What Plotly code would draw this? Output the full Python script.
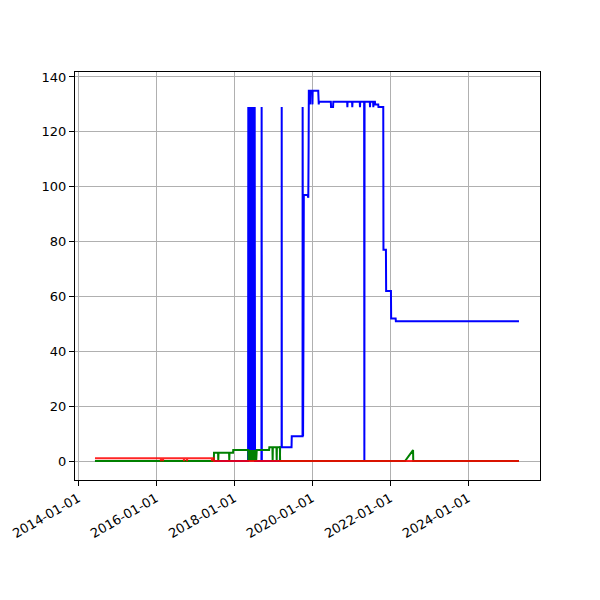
import plotly.graph_objects as go

blue_dates = [
    "2014-06-08", "2018-05-12",
    "2018-05-14", "2018-05-17", "2018-05-20", "2018-05-23", "2018-05-26", "2018-05-29",
    "2018-06-01", "2018-06-04", "2018-06-07", "2018-06-10", "2018-06-13", "2018-06-16",
    "2018-06-19", "2018-06-22", "2018-06-25", "2018-06-28", "2018-07-01", "2018-07-04",
    "2018-07-07", "2018-07-10", "2018-07-13", "2018-07-16",
    "2018-09-14", "2018-09-16", "2018-09-18",
    "2019-03-06", "2019-03-08", "2019-03-22", "2019-03-23", "2019-03-24",
    "2019-06-23", "2019-06-25", "2019-10-04", "2019-10-05", "2019-10-06",
    "2019-10-09", "2019-10-13", "2019-10-16", "2019-11-20", "2019-11-22", "2019-11-27",
    "2019-11-30", "2019-12-02",
    "2019-12-12", "2019-12-14", "2019-12-16", "2020-01-03", "2020-01-05", "2020-01-07",
    "2020-02-28", "2020-03-01", "2020-03-04", "2020-03-06",
    "2020-06-25", "2020-06-27", "2020-07-16", "2020-07-18",
    "2020-11-25", "2020-11-27", "2020-11-29",
    "2021-01-10", "2021-01-12", "2021-01-14",
    "2021-03-23", "2021-03-25", "2021-03-27",
    "2021-05-03", "2021-05-05", "2021-05-07",
    "2021-06-25", "2021-06-27", "2021-06-29",
    "2021-07-26", "2021-07-28", "2021-07-30",
    "2021-08-12", "2021-08-14", "2021-09-12", "2021-09-14",
    "2021-10-29", "2021-10-31", "2021-11-23", "2021-11-25",
    "2022-01-09", "2022-01-11", "2022-02-22", "2022-02-24",
    "2025-04-22",
]
blue_values = [
    0, 0,
    129, 0, 129, 0, 129, 0,
    129, 0, 129, 0, 129, 0,
    129, 0, 129, 0, 129, 0,
    129, 0, 129, 0,
    0, 129, 0,
    0, 5, 5, 129, 5,
    5, 9, 9, 129, 9,
    9, 49, 97, 97, 96, 96,
    115, 135,
    135, 130, 135, 135, 130, 135,
    135, 131, 130, 131,
    131, 129, 129, 131,
    131, 129, 131,
    131, 129, 131,
    131, 129, 131,
    131, 0, 131,
    131, 129, 131,
    131, 129, 131,
    131, 130, 130, 129,
    129, 77, 77, 62,
    62, 52, 52, 51,
    51,
]

green_dates = [
    "2014-06-08", "2017-06-25", "2017-06-27", "2017-08-04", "2017-08-06", "2017-08-08",
    "2017-11-15", "2017-11-17", "2017-11-19", "2017-12-22", "2017-12-24",
    "2018-05-14", "2018-05-16", "2018-05-20", "2018-05-24", "2018-05-28", "2018-06-01",
    "2018-06-05", "2018-06-09", "2018-06-13", "2018-06-17", "2018-06-21", "2018-06-25",
    "2018-06-29", "2018-07-03", "2018-07-07", "2018-07-11", "2018-07-15", "2018-07-19",
    "2018-07-23", "2018-07-27", "2018-08-01",
    "2018-11-25", "2018-11-27", "2018-12-26", "2018-12-28", "2018-12-30",
    "2019-02-02", "2019-02-04", "2019-02-06", "2019-03-06", "2019-03-08",
    "2022-05-21", "2022-08-04", "2022-08-06", "2025-04-22",
]
green_values = [
    0, 0, 3, 3, 0, 3,
    3, 0, 3, 3, 4,
    4, 0, 4, 0, 4, 0,
    4, 0, 4, 0, 4, 0,
    4, 0, 4, 0, 4, 0,
    4, 0, 4,
    4, 5, 5, 0, 5,
    5, 0, 5, 5, 0,
    0, 4, 0, 0,
]

red_dates = [
    "2014-06-08", "2016-02-14", "2016-02-16", "2016-02-18", "2016-03-04", "2016-03-06",
    "2016-03-08", "2016-09-17", "2016-09-19", "2016-09-21", "2016-10-15", "2016-10-17",
    "2016-10-19", "2017-06-07", "2017-06-09", "2017-06-11", "2017-06-25", "2017-06-27",
    "2025-04-22",
]
red_values = [
    1, 1, 0, 1, 1, 0,
    1, 1, 0, 1, 1, 0,
    1, 1, 0, 1, 1, 0,
    0,
]

y_ticks = [0, 20, 40, 60, 80, 100, 120, 140]

fig = go.Figure()
fig.add_trace(go.Scatter(x=blue_dates, y=blue_values, mode="lines",
                         line=dict(color="#0000ff", width=2)))
fig.add_trace(go.Scatter(x=green_dates, y=green_values, mode="lines",
                         line=dict(color="#008000", width=2)))
fig.add_trace(go.Scatter(x=red_dates, y=red_values, mode="lines",
                         line=dict(color="#ff0000", width=2), opacity=0.85))

axis_common = dict(
    showline=True, linecolor="black", linewidth=1, mirror=True,
    ticks="outside", ticklen=5, tickwidth=1, tickcolor="black",
    showgrid=True, gridcolor="#b0b0b0", gridwidth=1, zeroline=False,
    automargin=False,
    tickfont=dict(family="DejaVu Sans", size=13, color="black"),
)

fig.update_layout(
    width=592, height=592,
    margin=dict(l=67, r=60, t=64, b=120),
    paper_bgcolor="white", plot_bgcolor="white",
    showlegend=False,
    xaxis=dict(type="date", range=["2013-12-03", "2025-11-05"],
               tick0="2014-01-01", dtick="M24", tickformat="%Y-%m-%d",
               tickangle=-30, **axis_common),
    yaxis=dict(range=[-6.9, 141.8], tickvals=y_ticks, **axis_common),
)

fig.write_html("out.html")
